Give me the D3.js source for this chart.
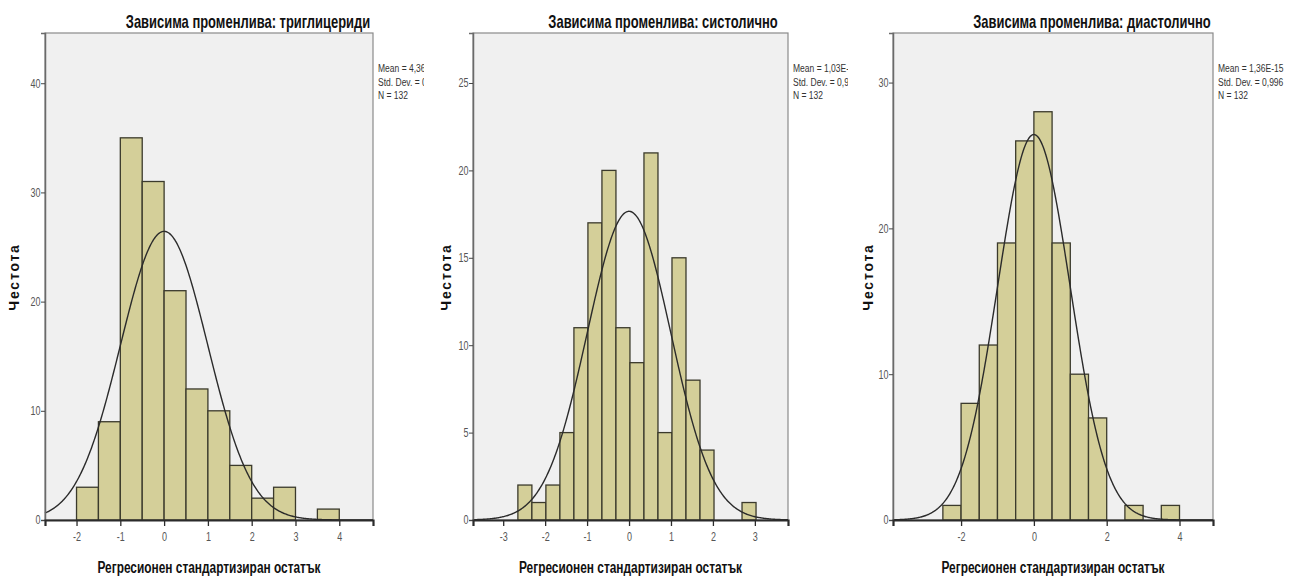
<!DOCTYPE html>
<html>
<head>
<meta charset="utf-8">
<script src="https://cdn.jsdelivr.net/npm/d3@7"></script>
<style>
  html, body { margin: 0; padding: 0; background: #ffffff; }
  svg { display: block; }
  text { font-family: "Liberation Sans", Arial, sans-serif; }
</style>
</head>
<body>
<svg id="chart" width="1297" height="579"></svg>
<script>
// Histograms of standardized regression residuals, one per dependent variable
const titles = [
  "Зависима променлива: триглицериди",
  "Зависима променлива: систолично",
  "Зависима променлива: диастолично"
];
const xAxisLabel = "Регресионен стандартизиран остатък";
const yAxisLabel = "Честота";

// bin counts (left to right), first bin edge and bin width
const countsTrig  = [3, 9, 35, 31, 21, 12, 10, 5, 2, 3, 0, 1];
const binStartTrig = -2;
const binWidthTrig = 0.5;

const countsSys  = [2, 1, 2, 5, 11, 17, 20, 11, 9, 21, 5, 15, 8, 4, 0, 0, 1];
const binStartSys = -2.65;
const binWidthSys = 0.334;

const countsDia  = [1, 8, 12, 19, 26, 28, 19, 10, 7, 0, 1, 0, 1];
const binStartDia = -2.5;
const binWidthDia = 0.5;

// summary statistics shown beside each plot
const meanText = ["4,36E-15", "1,03E-15", "1,36E-15"];
const sdValues = [0.996, 0.996, 0.996];
const sdText   = ["0,996", "0,996", "0,996"];
const nValues  = [132, 132, 132];

// axis ticks
const xTicksTrig = [-2, -1, 0, 1, 2, 3, 4];
const yTicksTrig = [0, 10, 20, 30, 40];
const xTicksSys  = [-3, -2, -1, 0, 1, 2, 3];
const yTicksSys  = [0, 5, 10, 15, 20, 25];
const xTicksDia  = [-2, 0, 2, 4];
const yTicksDia  = [0, 10, 20, 30];

const panels = [
  { counts: countsTrig, start: binStartTrig, width: binWidthTrig, xTicks: xTicksTrig, yTicks: yTicksTrig,
    xDom: [-2.72, 4.77], yDom: [0, 44.6], left: 45, right: 373, top: 33, bottom: 520,
    titleX: 248, legendClip: 424, yLabelX: 13 },
  { counts: countsSys, start: binStartSys, width: binWidthSys, xTicks: xTicksSys, yTicks: yTicksSys,
    xDom: [-3.72, 3.79], yDom: [0, 27.86], left: 473, right: 788, top: 33, bottom: 520,
    titleX: 663, legendClip: 848, yLabelX: 445 },
  { counts: countsDia, start: binStartDia, width: binWidthDia, xTicks: xTicksDia, yTicks: yTicksDia,
    xDom: [-3.87, 4.92], yDom: [0, 33.4], left: 893, right: 1213, top: 33, bottom: 520,
    titleX: 1092, legendClip: 1297, yLabelX: 867 }
];

const intFmt = d => String(d); // plain hyphen-minus for negatives

const svg = d3.select("#chart");
const defs = svg.append("defs");

// condensed lettering: regular font squeezed horizontally
function narrowText(parent, x, y, anchor, size, weight, fill, squeeze, str) {
  return parent.append("g")
    .attr("transform", `translate(${x},${y}) scale(${squeeze},1)`)
    .append("text")
    .attr("text-anchor", anchor)
    .attr("font-size", size).attr("font-weight", weight).attr("fill", fill)
    .text(str);
}

panels.forEach((p, i) => {
  const x = d3.scaleLinear().domain(p.xDom).range([p.left, p.right]);
  const y = d3.scaleLinear().domain(p.yDom).range([p.bottom, p.top]);
  const g = svg.append("g");

  // plot background
  g.append("rect")
    .attr("x", p.left).attr("y", p.top)
    .attr("width", p.right - p.left).attr("height", p.bottom - p.top)
    .attr("fill", "#f0f0f0")
    .attr("stroke", "#8a8a8a").attr("stroke-width", 1.2);

  // bars
  const bins = p.counts.map((c, k) => ({ x0: p.start + k * p.width, x1: p.start + (k + 1) * p.width, c }));
  g.selectAll("rect.bar").data(bins.filter(b => b.c > 0)).join("rect")
    .attr("class", "bar")
    .attr("x", b => x(b.x0)).attr("width", b => x(b.x1) - x(b.x0))
    .attr("y", b => y(b.c)).attr("height", b => y(0) - y(b.c))
    .attr("fill", "#d4cf99")
    .attr("stroke", "#3b3a2c").attr("stroke-width", 1.3);

  // fitted normal curve
  const sd = sdValues[i], n = nValues[i];
  const scale = n * p.width / (sd * Math.sqrt(2 * Math.PI));
  const xs = d3.range(0, 401).map(k => p.xDom[0] + (p.xDom[1] - p.xDom[0]) * k / 400);
  const line = d3.line().x(v => x(v)).y(v => y(scale * Math.exp(-0.5 * (v / sd) * (v / sd))));
  g.append("path").datum(xs)
    .attr("d", line)
    .attr("fill", "none").attr("stroke", "#2b2b2b").attr("stroke-width", 1.4);

  // y axis
  const yAxis = g.append("g").attr("transform", `translate(${p.left},0)`)
    .call(d3.axisLeft(y).tickValues(p.yTicks).tickSize(4).tickPadding(2).tickFormat(intFmt));
  yAxis.select(".domain").attr("stroke", "#6a6a6a").attr("stroke-width", 1.5);
  yAxis.selectAll(".tick line").attr("stroke", "#444");
  yAxis.selectAll("text")
    .attr("font-family", "Liberation Sans, Arial, sans-serif")
    .attr("font-size", 12).attr("fill", "#555")
    .attr("transform", "scale(0.75,1)");

  // x axis
  const xAxis = g.append("g").attr("transform", `translate(0,${p.bottom})`)
    .call(d3.axisBottom(x).tickValues(p.xTicks).tickSize(6).tickPadding(6).tickFormat(intFmt));
  xAxis.select(".domain").attr("stroke", "#2b2b2b").attr("stroke-width", 2.2);
  xAxis.selectAll(".tick line").attr("stroke", "#2b2b2b").attr("stroke-width", 1.3);
  xAxis.selectAll("text")
    .attr("font-family", "Liberation Sans, Arial, sans-serif")
    .attr("font-size", 12).attr("fill", "#555")
    .attr("transform", "scale(0.75,1)");

  // title
  narrowText(g, p.titleX, 28, "middle", 18, "bold", "#111", 0.72, titles[i]);

  // x axis label
  narrowText(g, (p.left + p.right) / 2, 573, "middle", 17, "bold", "#111", 0.70, xAxisLabel);

  // y axis label
  g.append("text")
    .attr("transform", `translate(${p.yLabelX + 6},277) rotate(-90)`)
    .attr("text-anchor", "middle")
    .attr("font-size", 14).attr("font-weight", "bold").attr("fill", "#111")
    .attr("letter-spacing", 1.8)
    .text(yAxisLabel);

  // summary statistics, clipped where the neighbouring plot begins
  const clipId = "legclip" + i;
  defs.append("clipPath").attr("id", clipId).append("rect")
    .attr("x", p.right).attr("y", 50).attr("width", p.legendClip - p.right).attr("height", 60);
  const leg = g.append("g").attr("clip-path", `url(#${clipId})`);
  const lines = [`Mean = ${meanText[i]}`, `Std. Dev. = ${sdText[i]}`, `N = ${n}`];
  lines.forEach((s, k) => narrowText(leg, p.right + 5, 72 + k * 13.5, "start", 11.5, "normal", "#333", 0.74, s));
});
</script>
</body>
</html>
